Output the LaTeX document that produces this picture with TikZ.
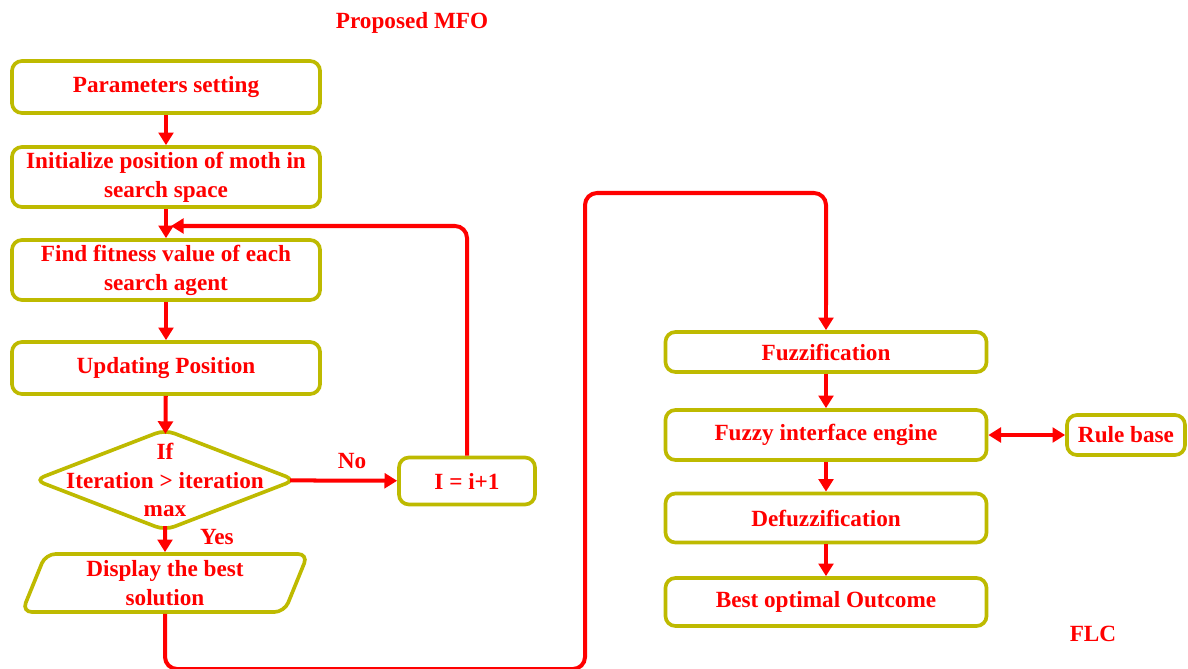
\documentclass[tikz,border=0pt]{standalone}
\usepackage{fontspec}
\setmainfont{Liberation Serif}
\usepackage{tikz}
\usetikzlibrary{shapes.geometric,arrows.meta,positioning,calc}
\usepackage{xcolor}
\definecolor{brightred}{RGB}{255,0,0}
\definecolor{olivebox}{RGB}{190,186,0}

\begin{document}
\begin{tikzpicture}[x=0.025cm,y=-0.025cm,
    every node/.style={font=\fontsize{16.5}{20.5}\selectfont\bfseries,text=brightred},
    procbox/.style={rectangle,draw=olivebox,line width=2.6pt,rounded corners=0.25cm,
        fill=white,align=center,inner sep=2pt,minimum width=7.7cm},
    flcbox/.style={procbox,minimum width=8.025cm},
    decision/.style={diamond,draw=olivebox,line width=2.6pt,rounded corners=0.25cm,
        minimum width=6.45cm,minimum height=2.45cm,inner sep=0pt,outer sep=-2pt},
    iobox/.style={trapezium,trapezium left angle=71,trapezium right angle=109,
        trapezium stretches=true,draw=olivebox,line width=2.6pt,rounded corners=0.25cm,
        align=center,inner sep=0pt,minimum width=7.15cm,minimum height=1.45cm},
    flow/.style={draw=brightred,line width=2.85pt,-{Triangle[length=9pt,width=10.5pt]}},
    link/.style={draw=brightred,line width=2.85pt,rounded corners=0.3cm}]
    \useasboundingbox (0,0) rectangle (1188,669);

    % MFO side
    \node (mfo) at (412,23) {Proposed MFO};
    \node[procbox,minimum height=1.3cm] (param) at (166,87) {Parameters setting};
    \node[procbox,minimum height=1.5cm] (init) at (166,177) {Initialize position of moth in\\search space};
    \node[procbox,minimum height=1.5cm] (fit) at (166,270) {Find fitness value of each\\search agent};
    \node[procbox,minimum height=1.3cm] (upd) at (166,368) {Updating Position};
    \node[decision,label={[align=center]center:{If\\Iteration > iteration\\max}}] (test) at (165,480) {};
    \node[procbox,minimum width=3.4cm,minimum height=1.175cm] (inc) at (467,481) {I = i+1};
    \node[iobox] (show) at (165,583) {Display the best\\solution};
    \node (no) at (352,461) {No};
    \node (yes) at (217,537) {Yes};

    % FLC side
    \node[flcbox,minimum height=1.0cm] (fuzz) at (826,352) {Fuzzification};
    \node[flcbox,minimum height=1.25cm] (engine) at (826,435) {Fuzzy interface engine};
    \node[procbox,minimum width=2.95cm,minimum height=1.0cm] (rule) at (1126,435) {Rule base};
    \node[flcbox,minimum height=1.225cm] (defuzz) at (826,518) {Defuzzification};
    \node[flcbox,minimum height=1.2cm] (best) at (826,602) {Best optimal Outcome};
    \node (flc) at (1093,634) {FLC};

    \coordinate (join) at (171,226);
    \coordinate (low) at (585,669);
    \coordinate (high) at (585,193);

    % connectors
    \draw[flow] (param) -- (init);
    \draw[flow] (init) -- (fit);
    \draw[flow] (fit) -- (upd);
    \draw[flow] (upd) -- (test);
    \draw[flow] (test) -- (inc);
    \draw[flow] (test) -- (show);
    \draw[flow,rounded corners=0.3cm] (inc.north) |- (join);
    \draw[link] (show.south) |- (low) -- (high) -| ($(fuzz.north)+(0,-25)$);
    \draw[flow] ($(fuzz.north)+(0,-26)$) -- (fuzz.north);
    \draw[flow] (fuzz) -- (engine);
    \draw[flow,{Triangle[length=9pt,width=10.5pt]}-{Triangle[length=9pt,width=10.5pt]}] (engine) -- (rule);
    \draw[flow] (engine) -- (defuzz);
    \draw[flow] (defuzz) -- (best);
\end{tikzpicture}
\end{document}
